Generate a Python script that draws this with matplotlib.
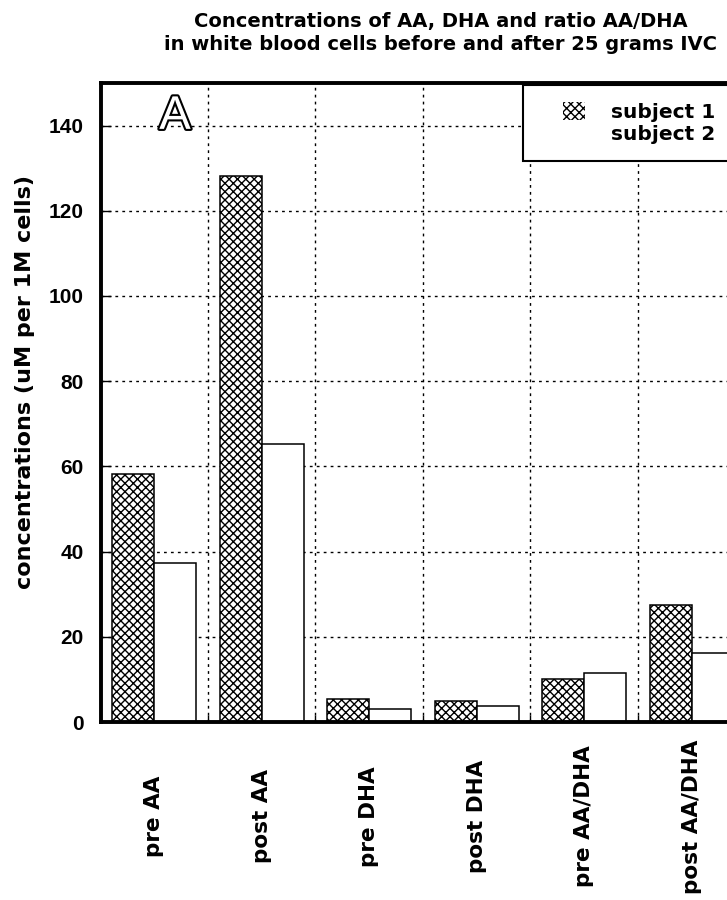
import matplotlib
matplotlib.use("Agg")
import matplotlib.pyplot as plt
import matplotlib.patheffects as pe
from matplotlib.patches import Patch, Rectangle
from matplotlib.legend_handler import HandlerPatch
import numpy as np

# values
categories = ["pre AA", "post AA", "pre DHA", "post DHA", "pre AA/DHA", "post AA/DHA"]
subject1 = [58.2, 128.1, 5.4, 4.9, 10.2, 27.5]
subject2 = [37.3, 65.3, 3.1, 3.7, 11.4, 16.2]
series_names = ["subject 1", "subject 2"]
yticks = [0, 20, 40, 60, 80, 100, 120, 140]

plt.rcParams["font.family"] = "DejaVu Sans"
plt.rcParams["font.weight"] = "bold"
plt.rcParams["hatch.linewidth"] = 1.0

fig = plt.figure(figsize=(7.27, 9.0), dpi=100)
# the reference is cropped on the right, so the axes run past the figure edge
ax = fig.add_axes([100.5 / 727, 1 - 722 / 900, 645 / 727, 639 / 900])

x = np.arange(len(categories))
w = 0.39
ax.bar(x - w / 2, subject1, w, facecolor="white", edgecolor="black",
       linewidth=1.1, hatch="xxxx", zorder=2)
ax.bar(x + w / 2, subject2, w, facecolor="white", edgecolor="black",
       linewidth=1.1, zorder=2)

ax.set_xlim(-0.5, len(categories) - 0.5)
ax.set_ylim(0, 150)

ax.set_yticks(yticks)
ax.set_xticks(x)
ax.set_xticklabels(categories, rotation=90, va="center", ha="center",
                   fontsize=15.5, fontweight="bold")
ax.set_xticks(x[:-1] + 0.5, minor=True)

ax.tick_params(axis="x", which="major", length=0, pad=68)
ax.tick_params(axis="x", which="minor", direction="in", length=5, width=1)
ax.tick_params(axis="y", which="major", direction="in", length=7.5, width=1,
               pad=12, labelsize=15, labelfontfamily="Liberation Sans")
for lbl in ax.get_yticklabels():
    lbl.set_fontweight("bold")

ax.grid(True, axis="y", which="major", color="black", linewidth=1,
        linestyle=(0, (2, 3)))
ax.grid(True, axis="x", which="minor", color="black", linewidth=1,
        linestyle=(0, (2, 3)))
ax.set_axisbelow(True)

for s in ax.spines.values():
    s.set_linewidth(2.8)

ax.set_ylabel("concentrations (uM per 1M cells)", fontsize=16, fontweight="bold")
ax.yaxis.set_label_coords(-0.1016, 0.532)

# hollow panel letter
ax.text(0.1155, 0.947, "A", transform=ax.transAxes, ha="center", va="center",
        fontsize=34, family="Liberation Sans", fontweight="normal", color="white",
        path_effects=[pe.Stroke(linewidth=3, foreground="black"), pe.Normal()],
        zorder=5)


def right_box(legend, orig_handle, xdescent, ydescent, width, height, fontsize):
    bw = 22 / 100 * 72
    return Rectangle((width - xdescent - bw, -ydescent), bw, height)


handles = [Patch(facecolor="white", edgecolor="black", linewidth=0, hatch="xxxx"),
           Patch(facecolor="white", edgecolor="none", linewidth=0)]
leg = ax.legend(handles, series_names, loc="upper left",
                bbox_to_anchor=(0.655, 0.997), borderaxespad=0,
                fontsize=14.5, frameon=True, fancybox=False, framealpha=1,
                edgecolor="black", borderpad=0.85, labelspacing=0.1,
                handlelength=2.25, handleheight=1.0, handletextpad=1.25,
                handler_map={Patch: HandlerPatch(patch_func=right_box)})
leg.get_frame().set_linewidth(1.5)
for t in leg.get_texts():
    t.set_fontweight("bold")

fig.text(441 / 727, 1 - 27 / 900, "Concentrations of AA, DHA and ratio AA/DHA",
         ha="center", va="baseline", fontsize=14, fontweight="bold")
fig.text(441 / 727, 1 - 50 / 900, "in white blood cells before and after 25 grams IVC",
         ha="center", va="baseline", fontsize=14, fontweight="bold")

fig.savefig("out.png", dpi=100)
